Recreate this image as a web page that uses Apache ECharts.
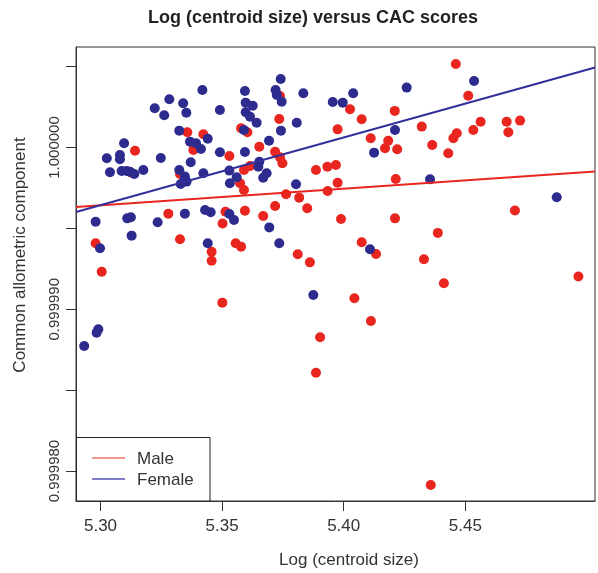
<!DOCTYPE html>
<html>
<head>
<meta charset="utf-8">
<script src="https://cdn.jsdelivr.net/npm/echarts@6/dist/echarts.min.js"></script>
<style>html,body{margin:0;padding:0;background:#fff}#c{width:598px;height:573px}</style>
</head>
<body>
<div id="c"></div>
<script>
// ---- data ----
const titleText = 'Log (centroid size) versus CAC scores';
const xTitle = 'Log (centroid size)';
const yTitle = 'Common allometric component';
const legendNames = ['Male', 'Female'];
const xTicks = [5.30, 5.35, 5.40, 5.45];
const yTicks = [0.99998, 0.999985, 0.99999, 0.999995, 1.0, 1.000005];
const yLabelTicks = [0.99998, 0.99999, 1.0];
const xRange = [5.28993, 5.50333];
const yRange = [0.99997815, 1.00000621];

const femaleX = [5.3741,5.3419,5.3594,5.3720,5.3725,5.3834,5.3745,5.3283,5.3340,5.3223,
 5.3262,5.3353,5.3491,5.3597,5.3626,5.3597,5.3615,5.3642,5.3955,5.3996,
 5.3807,5.3742,5.3324,5.3590,5.3441,5.3368,5.3393,5.3413,5.3097,5.3026,
 5.3080,5.3080,5.3248,5.3491,5.3594,5.3693,5.3039,5.3087,5.3108,5.3121,
 5.3139,5.3176,5.3324,5.3371,5.3423,5.3530,5.3653,5.3649,5.3347,5.3354,
 5.3330,5.3560,5.3532,5.3683,5.3669,5.3804,5.2980,5.3110,5.3125,5.3235,
 5.3347,5.3430,5.3453,5.3530,5.3549,5.3694,5.3128,5.3441,5.3735,5.2998,
 5.3875,5.2991,5.2984,5.2933,5.4039,5.4259,5.4536,5.4211,5.4125,5.4355,
 5.4876,5.4108];
const femaleY = [1.00000423,1.00000355,1.00000349,1.00000355,1.00000324,1.00000335,1.00000283,1.00000298,1.00000273,1.00000242,
 1.00000199,1.00000215,1.00000232,1.00000277,1.00000258,1.00000218,1.00000190,1.00000153,1.00000281,1.00000277,
 1.00000153,1.00000104,1.00000104,1.00000108,1.00000054,1.00000036,1.00000026,0.99999991,1.00000026,0.99999933,
 0.99999954,0.99999927,0.99999935,0.99999970,0.99999972,1.00000042,0.99999847,0.99999855,0.99999855,0.99999850,
 0.99999836,0.99999861,0.99999861,0.99999909,0.99999841,0.99999857,0.99999912,0.99999881,0.99999820,0.99999789,
 0.99999774,0.99999816,0.99999779,0.99999841,0.99999813,0.99999773,0.99999541,0.99999562,0.99999569,0.99999538,
 0.99999591,0.99999614,0.99999600,0.99999589,0.99999552,0.99999506,0.99999455,0.99999408,0.99999408,0.99999377,
 0.99999088,0.99998876,0.99998855,0.99998773,1.00000335,1.00000370,1.00000411,1.00000108,0.99999968,0.99999803,
 0.99999692,0.99999371];

const maleX = [5.3735,5.3738,5.3357,5.3423,5.3142,5.3382,5.3578,5.3604,5.3653,5.3530,
 5.3718,5.3738,5.3748,5.3615,5.3590,5.3886,5.3933,5.3968,5.3975,5.3975,
 5.3327,5.3574,5.3590,5.3763,5.3817,5.3850,5.3934,5.3718,5.3594,5.3514,
 5.3502,5.3669,5.3279,5.3125,5.3327,5.2980,5.3457,5.3457,5.3556,5.3578,
 5.3811,5.3861,5.3005,5.3501,5.3903,5.3886,5.3989,5.4461,5.4512,5.4026,
 5.4210,5.4074,5.4321,5.4563,5.4533,5.4670,5.4725,5.4677,5.4111,5.4183,
 5.4170,5.4220,5.4364,5.4465,5.4451,5.4430,5.4214,5.4211,5.4704,5.4387,
 5.4074,5.4133,5.4330,5.4412,5.4965,5.4044,5.4112,5.4358];
const maleY = [1.00000176,1.00000318,1.00000094,1.00000082,0.99999980,0.99999985,1.00000119,1.00000094,1.00000005,0.99999947,
 0.99999974,0.99999939,0.99999902,0.99999886,0.99999861,0.99999861,0.99999881,0.99999892,1.00000112,0.99999782,
 0.99999836,0.99999779,0.99999737,0.99999711,0.99999690,0.99999624,0.99999731,0.99999638,0.99999609,0.99999603,
 0.99999530,0.99999577,0.99999591,0.99999845,0.99999433,0.99999408,0.99999356,0.99999300,0.99999408,0.99999387,
 0.99999340,0.99999290,0.99999232,0.99999041,0.99998827,0.99998608,0.99999558,1.00000516,1.00000320,1.00000236,
 1.00000226,1.00000174,1.00000129,1.00000159,1.00000108,1.00000159,1.00000166,1.00000094,1.00000057,1.00000042,
 0.99999995,0.99999989,1.00000015,1.00000088,1.00000057,0.99999964,0.99999805,0.99999562,0.99999611,0.99999472,
 0.99999414,0.99999342,0.99999309,0.99999161,0.99999202,0.99999068,0.99998928,0.99997914];

// regression line end points
const femaleFitX = [5.28993, 5.50333];
const femaleFitY = [0.99999601, 1.00000494];
const maleFitX = [5.28993, 5.50333];
const maleFitY = [0.99999632, 0.99999852];

// ---- build ----
const zip = (a, b) => a.map((v, i) => [v, b[i]]);
const FONT = '"Liberation Sans", Arial, Helvetica, sans-serif';
const RED = '#e8261f';
const BLUE = '#2e2b8f';
const G = {left: 76, top: 47, right: 3, bottom: 72};

const chart = echarts.init(document.getElementById('c'), null, {renderer: 'canvas'});
chart.setOption({
  animation: false,
  backgroundColor: '#fff',
  textStyle: {fontFamily: FONT},
  grid: {left: G.left, top: G.top, right: G.right, bottom: G.bottom, show: true,
         borderColor: '#333', borderWidth: 1, backgroundColor: 'transparent'},
  xAxis: {
    type: 'value', min: xRange[0], max: xRange[1],
    splitLine: {show: false},
    axisLine: {show: true, onZero: false, lineStyle: {color: '#333', width: 1}},
    axisTick: {show: true, length: 10, inside: false, customValues: xTicks, lineStyle: {color: '#333'}},
    axisLabel: {customValues: xTicks, margin: 17, fontSize: 17, color: '#333', fontFamily: FONT,
                formatter: v => v.toFixed(2)}
  },
  yAxis: {
    type: 'value', min: yRange[0], max: yRange[1],
    splitLine: {show: false},
    axisLine: {show: true, onZero: false, lineStyle: {color: '#333', width: 1}},
    axisTick: {show: true, length: 10, inside: false, customValues: yTicks, lineStyle: {color: '#333'}},
    axisLabel: {customValues: yLabelTicks, rotate: 90, margin: 14, fontSize: 15, color: '#333', fontFamily: FONT,
                formatter: v => v.toFixed(6)}
  },
  series: [
    {type: 'scatter', name: 'Male', data: zip(maleX, maleY), symbolSize: 10,
     itemStyle: {color: RED, opacity: 1}, z: 2},
    {type: 'scatter', name: 'Female', data: zip(femaleX, femaleY), symbolSize: 10,
     itemStyle: {color: BLUE, opacity: 1}, z: 3},
    {type: 'line', name: 'MaleFit', data: zip(maleFitX, maleFitY), symbol: 'none',
     lineStyle: {color: RED, width: 2}, z: 4},
    {type: 'line', name: 'FemaleFit', data: zip(femaleFitX, femaleFitY), symbol: 'none',
     lineStyle: {color: '#33309c', width: 2}, z: 5}
  ],
  graphic: [
    {type: 'text', x: 313, y: 18, z: 10,
     style: {text: titleText, font: 'bold 18px ' + FONT, fill: '#222', textAlign: 'center', textVerticalAlign: 'middle'}},
    {type: 'text', x: 349, y: 560, z: 10,
     style: {text: xTitle, font: '17px ' + FONT, fill: '#333', textAlign: 'center', textVerticalAlign: 'middle'}},
    {type: 'text', x: 20, y: 255, rotation: Math.PI / 2, z: 10,
     style: {text: yTitle, font: '17px ' + FONT, fill: '#333', textAlign: 'center', textVerticalAlign: 'middle'}},
    {type: 'rect', z: 20, shape: {x: 76.5, y: 437.5, width: 133.5, height: 63.5},
     style: {fill: '#fff', stroke: '#222', lineWidth: 1}},
    {type: 'line', z: 21, shape: {x1: 92, y1: 458, x2: 125, y2: 458}, style: {stroke: '#f07a66', lineWidth: 1.5}},
    {type: 'line', z: 21, shape: {x1: 92, y1: 479, x2: 125, y2: 479}, style: {stroke: '#5a56b8', lineWidth: 1.5}},
    {type: 'text', x: 137, y: 459, z: 21,
     style: {text: legendNames[0], font: '17px ' + FONT, fill: '#333', textVerticalAlign: 'middle'}},
    {type: 'text', x: 137, y: 480, z: 21,
     style: {text: legendNames[1], font: '17px ' + FONT, fill: '#333', textVerticalAlign: 'middle'}}
  ]
});
</script>
</body>
</html>
